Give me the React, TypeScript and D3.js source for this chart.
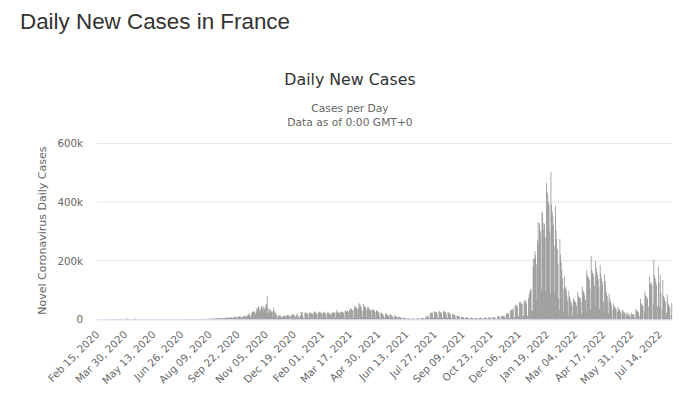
import React, { useEffect, useRef } from 'react';
import * as d3 from 'd3';

// daily new cases in thousands, one value per day, starting Feb 15, 2020
const cases2020 = [
  // Feb 15-29
  0, 0, 0, 0, 0, 0, 0, 0, 0, 0, 0, 0, 0.01, 0.02, 0.04,
  // Mar
  0.03, 0.06, 0.04, 0.08, 0.1, 0.2, 0.2, 0.1, 0.3, 0.3, 0.4, 0.3, 0.5, 0.5, 0.6, 0.7, 0.6, 0.7, 0.8, 0.7, 0.8, 0.6, 0.9, 0.7, 0.8, 0.9, 0.8, 0.9, 0.6, 0.8, 0.9,
  // Apr
  3.2, 2.6, 0.9, 0.8, 0.6, 0.9, 0.8, 0.7, 0.8, 0.9, 0.7, 0.6, 0.6, 0.8, 2.9, 0.7, 0.6, 0.5, 0.4, 0.5, 0.6, 0.4, 0.5, 0.4, 0.4, 0.3, 0.4, 0.4, 0.3, 0.3,
  // May
  0.4, 0.5, 0.4, 0.2, 0.4, 0.5, 0.4, 0.4, 0.4, 0.3, 0.3, 0.5, 0.3, 0.4, 0.4, 0.3, 0.3, 0.4, 0.3, 0.4, 0.4, 0.4, 0.3, 0.3, 0.3, 0.3, 0.3, 0.3, 0.3, 0.3, 0.3,
  // Jun
  0.3, 0.3, 0.4, 0.5, 0.4, 0.4, 0.3, 0.3, 0.4, 0.4, 0.4, 0.4, 0.4, 0.3, 0.3, 0.4, 0.4, 0.4, 0.5, 0.4, 0.3, 0.3, 0.4, 0.5, 0.4, 0.5, 0.4, 0.4, 0.4, 0.4,
  // Jul
  0.5, 0.5, 0.5, 0.5, 0.4, 0.4, 0.5, 0.5, 0.6, 0.6, 0.5, 0.5, 0.5, 0.5, 0.7, 0.7, 0.8, 0.8, 0.7, 0.7, 0.8, 0.9, 1.0, 1.0, 1.0, 1.0, 1.0, 1.1, 1.2, 1.2, 1.1,
  // Aug
  1.1, 1.2, 1.2, 1.3, 1.4, 1.6, 1.8, 1.9, 1.8, 1.7, 1.9, 2.0, 2.1, 2.3, 2.5, 2.6, 2.3, 1.9, 3.0, 3.4, 3.3, 3.5, 3.7, 2.8, 2.8, 3.9, 4.2, 5.0, 3.9, 3.9, 3.4,
  // Sep
  3.6, 4.2, 5.0, 6.0, 5.8, 5.0, 3.2, 4.6, 5.9, 6.6, 6.4, 7.1, 5.1, 4.5, 5.6, 6.9, 7.2, 8.8, 9.0, 7.2, 4.0, 7.0, 8.9, 10.7, 10.5, 9.7, 7.6, 3.3, 6.0, 9.0,
  // Oct
  10.4, 10.0, 12.9, 10.2, 4.8, 9.0, 13.7, 14.1, 16.1, 19.9, 14.1, 8.1, 12.9, 20.6, 25.6, 23.1, 27.4, 26.8, 13.2, 20.5, 26.7, 36.6, 38.0, 40.4, 45.0, 26.7, 33.4, 36.4, 43.6, 45.2, 35.6,
  // Nov
  42.3, 26.8, 36.3, 40.6, 50.0, 52.5, 80.9, 38.6, 20.2, 35.9, 33.1, 28.4, 32.1, 24.0, 27.2, 9.4, 40.5, 28.4, 21.2, 22.9, 17.9, 11.2, 4.5, 9.2, 13.6, 13.0, 12.4, 11.0, 9.8, 4.0,
  // Dec
  8.1, 10.0, 11.0, 12.7, 11.2, 11.0, 3.4, 13.7, 14.6, 13.8, 13.4, 11.5, 10.6, 3.0, 11.5, 17.6, 18.0, 15.7, 15.0, 12.0, 5.9, 11.4, 15.9, 20.3, 3.1, 11.2, 8.8, 3.1, 11.4, 26.5, 20.2,
];

const cases2021 = [
  // Jan
  25.0, 12.5, 3.5, 4.0, 20.5, 25.4, 21.7, 19.8, 20.2, 15.9, 3.9, 19.8, 23.9, 21.3, 21.2, 21.4, 16.6, 3.7, 23.6, 26.8, 23.3, 22.8, 20.6, 18.4, 4.2, 22.1, 26.9, 23.8, 22.9, 24.4, 19.2,
  // Feb
  4.3, 19.9, 26.4, 23.1, 22.1, 20.6, 19.9, 4.3, 18.9, 25.4, 21.1, 21.2, 18.0, 16.5, 4.3, 20.0, 24.1, 22.4, 23.0, 23.4, 22.0, 4.4, 23.3, 31.5, 25.4, 24.9, 22.0, 20.3,
  // Mar
  4.6, 25.4, 25.3, 26.8, 23.5, 23.3, 21.8, 4.0, 29.9, 29.9, 25.2, 26.6, 29.8, 26.3, 6.5, 29.9, 38.5, 34.9, 35.1, 30.6, 30.6, 4.6, 35.0, 45.6, 41.9, 42.6, 37.0, 35.0, 9.1, 40.2, 55.0,
  // Apr
  50.7, 46.7, 42.6, 33.0, 8.1, 28.0, 52.0, 44.2, 41.2, 43.3, 33.2, 5.1, 39.8, 43.5, 38.2, 34.0, 33.0, 29.2, 5.9, 32.8, 34.0, 30.3, 33.0, 29.5, 24.1, 4.6, 30.6, 29.3, 26.4, 25.0,
  // May
  19.5, 7.5, 4.3, 23.7, 22.2, 19.3, 17.8, 13.3, 9.0, 3.6, 19.5, 21.0, 16.5, 14.5, 15.2, 9.7, 3.2, 14.3, 17.0, 15.6, 12.2, 9.7, 6.0, 2.0, 11.1, 13.2, 10.4, 10.2, 8.5, 5.9, 1.5,
  // Jun
  8.4, 8.8, 7.3, 6.6, 5.8, 1.2, 1.0, 5.5, 5.5, 4.5, 4.2, 3.3, 0.8, 0.5, 3.0, 3.2, 2.4, 2.6, 2.3, 0.5, 0.4, 2.1, 2.5, 2.2, 2.0, 1.8, 0.4, 0.4, 2.2, 2.9,
  // Jul
  2.9, 2.7, 2.6, 0.9, 0.6, 4.2, 4.2, 4.0, 4.4, 3.7, 1.0, 0.9, 7.1, 4.3, 10.9, 12.2, 10.4, 3.0, 3.6, 18.2, 21.9, 21.1, 25.6, 19.9, 5.0, 5.3, 27.4, 23.9, 25.0, 24.4, 18.0,
  // Aug
  4.3, 5.9, 28.2, 25.9, 23.2, 24.1, 20.1, 5.0, 5.5, 26.8, 28.7, 24.4, 24.6, 18.5, 5.8, 4.6, 24.9, 22.3, 20.7, 21.2, 15.7, 4.5, 2.9, 18.4, 15.9, 15.9, 15.4, 11.9, 3.2, 1.9, 13.2,
  // Sep
  12.1, 10.8, 10.1, 9.1, 2.1, 1.6, 8.6, 8.0, 8.0, 7.2, 5.8, 1.6, 1.5, 6.7, 6.6, 6.2, 5.7, 4.8, 1.4, 1.1, 4.6, 5.3, 5.0, 5.1, 4.0, 0.9, 0.7, 4.2, 5.1, 4.5,
  // Oct
  4.0, 3.6, 0.8, 1.4, 4.2, 5.0, 5.2, 4.7, 4.3, 0.8, 1.3, 4.5, 5.6, 5.3, 5.1, 4.9, 0.8, 1.3, 5.9, 6.0, 6.0, 5.9, 5.3, 1.0, 1.6, 6.6, 7.1, 6.4, 6.1, 5.8, 1.0,
  // Nov
  0.9, 6.6, 11.4, 8.9, 10.1, 9.7, 2.0, 1.5, 11.6, 12.5, 11.3, 11.2, 10.1, 4.1, 3.2, 20.3, 20.3, 17.2, 20.0, 19.8, 4.6, 3.6, 30.5, 32.6, 33.5, 32.6, 37.7, 6.5, 6.8, 47.2,
  // Dec
  50.1, 42.6, 48.9, 42.0, 10.2, 10.7, 59.0, 61.3, 53.7, 54.3, 51.3, 8.7, 12.3, 63.4, 56.8, 65.7, 58.5, 53.2, 12.5, 11.4, 72.8, 84.3, 94.1, 104.6, 100.0, 27.7, 30.4, 179.8, 208.1, 206.2, 232.2,
];

const cases2022 = [
  // Jan
  219.1, 187.0, 67.5, 271.7, 332.3, 261.5, 328.2, 303.7, 296.1, 102.1, 368.1, 361.7, 305.7, 329.4, 324.6, 278.1, 94.3, 464.8, 436.2, 425.2, 400.9, 391.2, 300.2, 87.1, 501.6, 392.2, 366.2, 353.8, 320.9, 250.1, 90.7,
  // Feb
  387.4, 303.4, 273.7, 240.1, 190.0, 71.2, 31.6, 274.3, 221.2, 195.4, 168.3, 140.3, 103.9, 27.1, 147.0, 108.0, 109.2, 100.4, 80.5, 63.5, 17.1, 96.5, 78.3, 70.8, 62.0, 55.0, 46.0, 12.1,
  // Mar
  71.7, 67.0, 62.8, 59.3, 56.9, 46.3, 15.4, 93.5, 78.1, 75.2, 75.4, 71.9, 57.6, 20.1, 112.3, 97.9, 95.4, 88.8, 79.0, 65.6, 25.8, 168.0, 150.0, 140.0, 145.0, 135.0, 105.0, 35.0, 217.0, 170.0, 160.0,
  // Apr
  155.0, 145.0, 115.0, 40.0, 200.0, 175.0, 160.0, 150.0, 137.0, 110.0, 35.0, 186.0, 155.0, 140.0, 130.0, 120.0, 60.0, 20.0, 152.0, 130.0, 100.0, 90.0, 80.0, 60.0, 20.0, 88.0, 70.0, 62.0, 55.0, 48.0,
  // May
  0, 30.0, 54.0, 45.0, 42.0, 38.0, 33.0, 0, 25.0, 42.0, 36.0, 33.0, 30.0, 26.0, 0, 20.0, 33.0, 28.0, 25.0, 23.0, 20.0, 0, 14.0, 24.0, 20.0, 12.0, 18.0, 16.0, 0, 10.0, 22.0,
  // Jun
  19.0, 17.0, 17.0, 15.0, 0, 5.0, 35.0, 30.0, 28.0, 27.0, 25.0, 0, 12.0, 70.0, 55.0, 50.0, 48.0, 45.0, 0, 28.0, 95.0, 80.0, 78.0, 75.0, 70.0, 0, 45.0, 146.0, 120.0, 123.0,
  // Jul
  125.0, 115.0, 0, 55.0, 203.0, 150.0, 140.0, 130.0, 118.0, 0, 45.0, 180.0, 125.0, 40.0, 150.0, 90.0, 0, 35.0, 134.0, 80.0, 75.0, 68.0, 60.0, 0, 22.0, 85.0, 55.0, 50.0, 45.0, 40.0, 0,
  // Aug 1-2
  15.0, 56.0,
];

const tickLabels = [
  'Feb 15, 2020', 'Mar 30, 2020', 'May 13, 2020', 'Jun 26, 2020', 'Aug 09, 2020', 'Sep 22, 2020',
  'Nov 05, 2020', 'Dec 19, 2020', 'Feb 01, 2021', 'Mar 17, 2021', 'Apr 30, 2021', 'Jun 13, 2021',
  'Jul 27, 2021', 'Sep 09, 2021', 'Oct 23, 2021', 'Dec 06, 2021', 'Jan 19, 2022', 'Mar 04, 2022',
  'Apr 17, 2022', 'May 31, 2022', 'Jul 14, 2022',
];

const yTicks = [0, 200, 400, 600];

const App = () => {
  const svgRef = useRef(null);

  useEffect(() => {
    const svg = d3.select(svgRef.current);
    svg.selectAll('*').remove();

    const values = [...cases2020, ...cases2021, ...cases2022];
    const start = new Date(2020, 1, 15);
    const fmt = d3.timeFormat('%b %d, %Y');
    const categories = values.map((_, i) => fmt(d3.timeDay.offset(start, i)));
    const data = values.map((v, i) => ({ date: categories[i], value: v }));

    const left = 96.7, right = 672, top = 143.5, bottom = 319.3;

    const x = d3.scaleBand().domain(categories).range([left, right]).padding(0);
    const y = d3.scaleLinear().domain([0, 600]).range([bottom, top]);

    // grid lines
    svg.append('g')
      .selectAll('line')
      .data(yTicks.filter(d => d > 0))
      .join('line')
      .attr('x1', left)
      .attr('x2', right)
      .attr('y1', d => y(d))
      .attr('y2', d => y(d))
      .attr('stroke', '#e6e6e6')
      .attr('stroke-width', 1);

    // bars
    svg.append('g')
      .selectAll('rect')
      .data(data)
      .join('rect')
      .attr('x', d => x(d.date))
      .attr('width', x.bandwidth() + 0.15)
      .attr('y', d => y(d.value))
      .attr('height', d => bottom - y(d.value))
      .attr('fill', '#939393');

    // x axis line
    svg.append('line')
      .attr('x1', left)
      .attr('x2', right)
      .attr('y1', bottom + 0.5)
      .attr('y2', bottom + 0.5)
      .attr('stroke', '#ccd6eb');

    // y labels
    svg.append('g')
      .selectAll('text')
      .data(yTicks)
      .join('text')
      .attr('x', 83)
      .attr('y', d => y(d) + 3.8)
      .attr('text-anchor', 'end')
      .style('font-family', 'DejaVu Sans')
      .style('font-size', '10.3px')
      .attr('fill', '#666')
      .text(d => (d === 0 ? '0' : d + 'k'));

    // x labels
    svg.append('g')
      .selectAll('text')
      .data(tickLabels)
      .join('text')
      .attr('transform', d => `translate(${x(d) + x.bandwidth() / 2 + 3},${335}) rotate(-45)`)
      .attr('text-anchor', 'end')
      .style('font-family', 'DejaVu Sans')
      .style('font-size', '10.3px')
      .attr('fill', '#666')
      .text(d => d);

    // y title
    svg.append('text')
      .attr('transform', 'translate(45.5,230.7) rotate(-90)')
      .attr('text-anchor', 'middle')
      .style('font-family', 'DejaVu Sans')
      .style('font-size', '11px')
      .attr('fill', '#666')
      .text('Novel Coronavirus Daily Cases');

    // chart titles
    svg.append('text')
      .attr('x', 350)
      .attr('y', 85)
      .attr('text-anchor', 'middle')
      .style('font-family', 'DejaVu Sans')
      .style('font-size', '15.8px')
      .attr('fill', '#333')
      .text('Daily New Cases');

    svg.append('text')
      .attr('x', 350)
      .attr('y', 111.7)
      .attr('text-anchor', 'middle')
      .style('font-family', 'DejaVu Sans')
      .style('font-size', '10.7px')
      .attr('fill', '#666')
      .text('Cases per Day');

    svg.append('text')
      .attr('x', 350)
      .attr('y', 125.5)
      .attr('text-anchor', 'middle')
      .style('font-family', 'DejaVu Sans')
      .style('font-size', '10.7px')
      .attr('fill', '#666')
      .text('Data as of 0:00 GMT+0');

    svg.append('text')
      .attr('x', 20)
      .attr('y', 29.3)
      .style('font-family', 'Liberation Sans')
      .style('font-size', '22.4px')
      .attr('fill', '#333')
      .text('Daily New Cases in France');
  }, []);

  return (
    <svg
      ref={svgRef}
      width={700}
      height={401}
      style={{ position: 'absolute', left: 0, top: 0, background: '#fff' }}
    />
  );
};

export default App;
